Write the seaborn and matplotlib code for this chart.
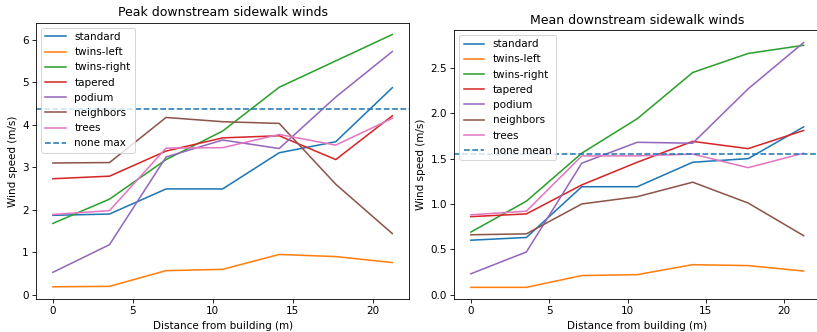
import pandas as pd
import numpy as np
import matplotlib
matplotlib.use("Agg")
import matplotlib.pyplot as plt
import seaborn as sns

distance = [0, 3.54, 7.08, 10.62, 14.16, 17.7, 21.24]
designs = ["standard", "twins-left", "twins-right", "tapered", "podium", "neighbors", "trees"]

# peak winds (m/s)
peak_standard = [1.87, 1.90, 2.49, 2.49, 3.34, 3.60, 4.87]
peak_twins_left = [0.19, 0.20, 0.57, 0.60, 0.95, 0.90, 0.76]
peak_twins_right = [1.68, 2.25, 3.18, 3.85, 4.88, 5.50, 6.12]
peak_tapered = [2.73, 2.79, 3.38, 3.69, 3.74, 3.18, 4.21]
peak_podium = [0.53, 1.18, 3.24, 3.64, 3.44, 4.65, 5.72]
peak_neighbors = [3.10, 3.11, 4.17, 4.07, 4.03, 2.60, 1.44]
peak_trees = [1.89, 1.98, 3.45, 3.46, 3.77, 3.52, 4.15]
none_max = 4.37

# mean winds (m/s)
mean_standard = [0.60, 0.63, 1.19, 1.19, 1.46, 1.50, 1.85]
mean_twins_left = [0.08, 0.08, 0.21, 0.22, 0.33, 0.32, 0.26]
mean_twins_right = [0.69, 1.03, 1.56, 1.94, 2.45, 2.66, 2.75]
mean_tapered = [0.86, 0.89, 1.21, 1.46, 1.69, 1.61, 1.81]
mean_podium = [0.23, 0.47, 1.45, 1.68, 1.67, 2.27, 2.78]
mean_neighbors = [0.66, 0.67, 1.00, 1.08, 1.24, 1.01, 0.65]
mean_trees = [0.88, 0.92, 1.53, 1.53, 1.55, 1.40, 1.56]
none_mean = 1.555

peak = [peak_standard, peak_twins_left, peak_twins_right, peak_tapered,
        peak_podium, peak_neighbors, peak_trees]
mean = [mean_standard, mean_twins_left, mean_twins_right, mean_tapered,
        mean_podium, mean_neighbors, mean_trees]


def to_long(series):
    rows = []
    for name, vals in zip(designs, series):
        for d, v in zip(distance, vals):
            rows.append({"design": name, "distance": d, "speed": v})
    return pd.DataFrame(rows)


palette = sns.color_palette("tab10", len(designs))

# drawn at 75 dpi so the default text comes out the size of the reference
fig = plt.figure(figsize=(817 / 75, 332 / 75), dpi=75)
ax1 = fig.add_axes([0.044, 0.099, 0.457, 0.833])
ax2 = fig.add_axes([0.556, 0.099, 0.448, 0.811])

for ax, series, ref, reflabel, title in [
        (ax1, peak, none_max, "none max", "Peak downstream sidewalk winds"),
        (ax2, mean, none_mean, "none mean", "Mean downstream sidewalk winds")]:
    sns.lineplot(data=to_long(series), x="distance", y="speed", hue="design",
                 palette=palette, ax=ax, linewidth=1.5)
    ax.axhline(ref, color=palette[0], linestyle="--", label=reflabel)
    ax.set_title(title)
    ax.set_xlabel("Distance from building (m)")
    ax.set_ylabel("Wind speed (m/s)")
    ax.legend(loc="upper left")

ax1.set_ylim(-0.1, 6.4)
ax2.set_ylim(-0.05, 2.92)

fig.savefig("out.png", dpi=75)
